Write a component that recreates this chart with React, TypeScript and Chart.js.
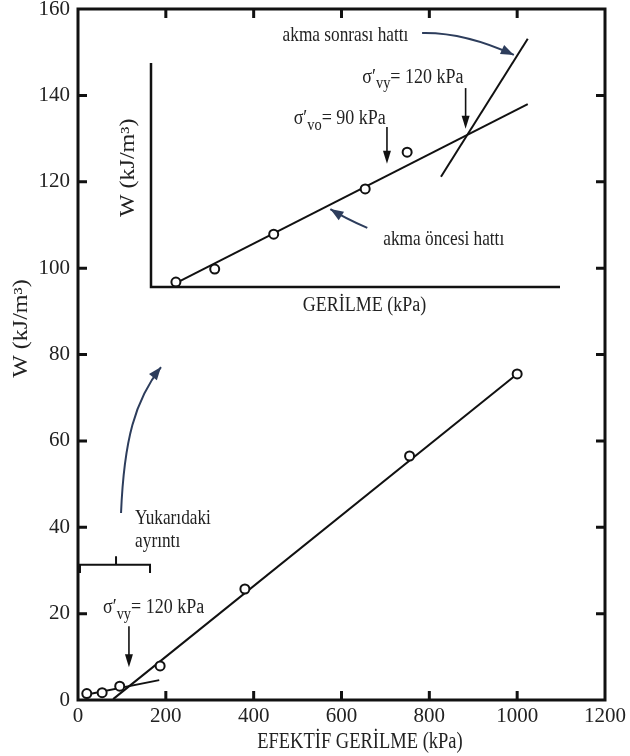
import React, { useEffect, useRef } from "react";
import { Chart, registerables } from "chart.js";

Chart.register(...registerables);

// ---------- Main chart data (EFEKTİF GERİLME kPa  vs  W kJ/m³) ----------
const stressKPa = [20, 55, 95, 187, 380, 755, 1000];
const energyW = [1.5, 1.7, 3.2, 7.9, 25.7, 56.5, 75.5];
const preYieldX = [15, 185];
const preYieldY = [1.15, 4.6];
const postYieldX = [80, 1000];
const postYieldY = [0.2, 75.5];
const xTickValues = [0, 200, 400, 600, 800, 1000, 1200];
const yTickValues = [0, 20, 40, 60, 80, 100, 120, 140, 160];

// ---------- Inset (detail) data: GERİLME kPa vs W ----------
const insetStress = [9.5, 24.3, 46.8, 81.7, 97.7];
const insetW = [0.11, 0.4, 1.18, 2.19, 3.01];
const insetPreX = [11, 143.7];
const insetPreY = [0.13, 4.08];
const insetPostX = [110.6, 143.7];
const insetPostY = [2.46, 5.54];
const sigmaVo = 90;
const sigmaVy = 120;

const FONT = '"Liberation Serif", "Times New Roman", serif';
const TEXT = "#222222";
const NAVY = "#2d3d5c";
const INK = "#111111";
const SY = 1.2;

const pts = (xs: number[], ys: number[]) => xs.map((x, i) => ({ x, y: ys[i] }));

function drawText(
  ctx: CanvasRenderingContext2D,
  s: string,
  x: number,
  y: number,
  size: number,
  align: CanvasTextAlign = "left",
  rot = 0,
  color = TEXT
) {
  ctx.save();
  ctx.translate(x, y);
  if (rot) {
    ctx.rotate(rot);
    ctx.scale(SY, 1);
  } else {
    ctx.scale(1, SY);
  }
  ctx.font = `${size}px ${FONT}`;
  ctx.textAlign = align;
  ctx.textBaseline = "middle";
  ctx.fillStyle = color;
  ctx.fillText(s, 0, 0);
  ctx.restore();
}

function drawSigma(ctx: CanvasRenderingContext2D, x: number, y: number, sub: string, rest: string, size: number) {
  ctx.save();
  ctx.translate(x, y);
  ctx.scale(1, SY);
  ctx.fillStyle = TEXT;
  ctx.textBaseline = "middle";
  ctx.textAlign = "left";
  ctx.font = `${size}px ${FONT}`;
  const a = "σ′";
  ctx.fillText(a, 0, 0);
  let cx = ctx.measureText(a).width;
  ctx.font = `${size * 0.8}px ${FONT}`;
  ctx.fillText(sub, cx, size * 0.32);
  cx += ctx.measureText(sub).width;
  ctx.font = `${size}px ${FONT}`;
  ctx.fillText(rest, cx, 0);
  ctx.restore();
}

function arrowHead(ctx: CanvasRenderingContext2D, x: number, y: number, ang: number, color: string, len = 12, w = 8) {
  ctx.save();
  ctx.translate(x, y);
  ctx.rotate(ang);
  ctx.beginPath();
  ctx.moveTo(0, 0);
  ctx.lineTo(-len, -w / 2);
  ctx.lineTo(-len, w / 2);
  ctx.closePath();
  ctx.fillStyle = color;
  ctx.fill();
  ctx.restore();
}

function downArrow(ctx: CanvasRenderingContext2D, x: number, y1: number, y2: number) {
  ctx.save();
  ctx.strokeStyle = INK;
  ctx.lineWidth = 1.6;
  ctx.beginPath();
  ctx.moveTo(x, y1);
  ctx.lineTo(x, y2 - 10);
  ctx.stroke();
  arrowHead(ctx, x, y2, Math.PI / 2, INK, 13, 8);
  ctx.restore();
}

function curveArrow(ctx: CanvasRenderingContext2D, p: number[][], color: string) {
  ctx.save();
  ctx.strokeStyle = color;
  ctx.lineWidth = 2;
  ctx.beginPath();
  ctx.moveTo(p[0][0], p[0][1]);
  if (p.length === 3) ctx.quadraticCurveTo(p[1][0], p[1][1], p[2][0], p[2][1]);
  else ctx.bezierCurveTo(p[1][0], p[1][1], p[2][0], p[2][1], p[3][0], p[3][1]);
  ctx.stroke();
  const e = p[p.length - 1];
  const c = p[p.length - 2];
  arrowHead(ctx, e[0], e[1], Math.atan2(e[1] - c[1], e[0] - c[0]), color, 13, 10);
  ctx.restore();
}

const mainDecor = {
  id: "mainDecor",
  afterDatasetsDraw(chart: any) {
    const ctx: CanvasRenderingContext2D = chart.ctx;
    const a = chart.chartArea;
    const xs = chart.scales.x;
    const ys = chart.scales.y;
    const X = (v: number) => xs.getPixelForValue(v);
    const Y = (v: number) => ys.getPixelForValue(v);
    ctx.save();
    // frame
    ctx.strokeStyle = INK;
    ctx.lineWidth = 3;
    ctx.strokeRect(a.left, a.top, a.right - a.left, a.bottom - a.top);
    // inward ticks on all four sides
    const tl = 9;
    ctx.beginPath();
    xTickValues.slice(1, -1).forEach((v) => {
      const px = X(v);
      ctx.moveTo(px, a.bottom);
      ctx.lineTo(px, a.bottom - tl);
      ctx.moveTo(px, a.top);
      ctx.lineTo(px, a.top + tl);
    });
    yTickValues.slice(1, -1).forEach((v) => {
      const py = Y(v);
      ctx.moveTo(a.left, py);
      ctx.lineTo(a.left + tl, py);
      ctx.moveTo(a.right, py);
      ctx.lineTo(a.right - tl, py);
    });
    ctx.stroke();

    // axis titles
    drawText(ctx, "EFEKTİF GERİLME (kPa)", X(642), Y(-9.7), 18.5, "center");
    drawText(ctx, "W (kJ/m³)", X(-129), Y(86), 20, "center", -Math.PI / 2);

    // "Yukarıdaki ayrıntı" note and bracket
    drawText(ctx, "Yukarıdaki", X(130), Y(42.1), 17.3);
    drawText(ctx, "ayrıntı", X(130), Y(36.6), 17.3);
    curveArrow(
      ctx,
      [
        [X(98), Y(43.3)],
        [X(104.8), Y(60.2)],
        [X(129.8), Y(69.5)],
        [X(189), Y(77.1)],
      ],
      NAVY
    );
    ctx.strokeStyle = INK;
    ctx.lineWidth = 2;
    ctx.beginPath();
    ctx.moveTo(X(4.5), Y(29.4));
    ctx.lineTo(X(4.5), Y(31.3));
    ctx.lineTo(X(164), Y(31.3));
    ctx.lineTo(X(164), Y(29.4));
    ctx.moveTo(X(86.6), Y(31.3));
    ctx.lineTo(X(86.6), Y(33.3));
    ctx.stroke();

    // σ'vy label on main chart
    drawSigma(ctx, X(57), Y(21.5), "vy", "= 120 kPa", 18);
    downArrow(ctx, X(116), Y(17.1), Y(7.6));
    ctx.restore();
  },
};

const insetDecor = {
  id: "insetDecor",
  afterDatasetsDraw(chart: any) {
    const ctx: CanvasRenderingContext2D = chart.ctx;
    const a = chart.chartArea;
    const xs = chart.scales.x;
    const ys = chart.scales.y;
    const X = (v: number) => xs.getPixelForValue(v);
    const Y = (v: number) => ys.getPixelForValue(v);
    ctx.save();
    ctx.strokeStyle = INK;
    ctx.lineWidth = 2.5;
    ctx.beginPath();
    ctx.moveTo(a.left, a.top);
    ctx.lineTo(a.left, a.bottom);
    ctx.lineTo(a.right, a.bottom);
    ctx.stroke();

    drawText(ctx, "GERİLME (kPa)", X(81.4), Y(-0.4), 18, "center");
    drawText(ctx, "W (kJ/m³)", X(-8.4), Y(2.66), 20, "center", -Math.PI / 2);

    drawText(ctx, "akma sonrası hattı", X(50.2), Y(5.62), 17.3);
    curveArrow(
      ctx,
      [
        [X(103.4), Y(5.67)],
        [X(119.4), Y(5.69)],
        [X(138.4), Y(5.18)],
      ],
      NAVY
    );

    drawSigma(ctx, X(80.6), Y(4.69), "vy", "= 120 kPa", 18);
    downArrow(ctx, X(sigmaVy), Y(4.44), Y(3.53));
    drawSigma(ctx, X(54.4), Y(3.77), "vo", "= 90 kPa", 18);
    downArrow(ctx, X(sigmaVo), Y(3.57), Y(2.75));

    drawText(ctx, "akma öncesi hattı", X(88.6), Y(1.05), 17.3);
    curveArrow(
      ctx,
      [
        [X(82.5), Y(1.32)],
        [X(73.6), Y(1.55)],
        [X(68.4), Y(1.74)],
      ],
      NAVY
    );
    ctx.restore();
  },
};

export default function App() {
  const mainRef = useRef<HTMLCanvasElement>(null);
  const insetRef = useRef<HTMLCanvasElement>(null);

  useEffect(() => {
    const tickFont = { family: FONT, size: 21 };
    const lineDs = (data: any) => ({
      type: "line" as const,
      data,
      borderColor: INK,
      borderWidth: 2,
      pointRadius: 0,
      fill: false,
      tension: 0,
      clip: false as any,
    });
    const pointDs = (data: any) => ({
      type: "scatter" as const,
      data,
      pointStyle: "circle",
      pointRadius: 4.5,
      pointBorderWidth: 2,
      borderColor: INK,
      pointBorderColor: INK,
      backgroundColor: "#ffffff",
      pointBackgroundColor: "#ffffff",
      clip: false as any,
    });

    const main = new Chart(mainRef.current!, {
      type: "scatter",
      data: {
        datasets: [
          pointDs(pts(stressKPa, energyW)),
          lineDs(pts(preYieldX, preYieldY)),
          lineDs(pts(postYieldX, postYieldY)),
        ] as any,
      },
      options: {
        responsive: false,
        animation: false,
        events: [],
        layout: { padding: { left: 0, right: 25, top: 9, bottom: 0 } },
        plugins: { legend: { display: false }, tooltip: { enabled: false } },
        scales: {
          x: {
            type: "linear",
            min: 0,
            max: 1200,
            afterBuildTicks: (s: any) => {
              s.ticks = xTickValues.map((v) => ({ value: v }));
            },
            ticks: {
              font: tickFont,
              color: TEXT,
              padding: 4,
              maxRotation: 0,
              callback: (v: any) => String(v),
            },
            grid: { display: false, drawTicks: false },
            border: { display: false },
            afterFit: (s: any) => {
              s.height = 56;
              s.paddingLeft = 0;
              s.paddingRight = 0;
            },
          },
          y: {
            type: "linear",
            min: 0,
            max: 160,
            afterBuildTicks: (s: any) => {
              s.ticks = yTickValues.map((v) => ({ value: v }));
            },
            ticks: { font: tickFont, color: TEXT, padding: 8, callback: (v: any) => String(v) },
            grid: { display: false, drawTicks: false },
            border: { display: false },
            afterFit: (s: any) => {
              s.width = 78;
              s.paddingTop = 0;
              s.paddingBottom = 0;
            },
          },
        },
      } as any,
      plugins: [mainDecor],
    });

    const inset = new Chart(insetRef.current!, {
      type: "scatter",
      data: {
        datasets: [
          pointDs(pts(insetStress, insetW)),
          lineDs(pts(insetPreX, insetPreY)),
          lineDs(pts(insetPostX, insetPostY)),
        ] as any,
      },
      options: {
        responsive: false,
        animation: false,
        events: [],
        layout: { padding: { left: 151, right: 70, top: 63, bottom: 469 } },
        plugins: { legend: { display: false }, tooltip: { enabled: false } },
        scales: {
          x: { type: "linear", display: false, min: 0, max: 156 },
          y: { type: "linear", display: false, min: 0, max: 5 },
        },
      } as any,
      plugins: [insetDecor],
    });

    return () => {
      main.destroy();
      inset.destroy();
    };
  }, []);

  const cs: React.CSSProperties = { position: "absolute", left: 0, top: 0, width: 630, height: 756 };
  return (
    <div style={{ position: "absolute", left: 0, top: 0, width: 630, height: 756, background: "#ffffff" }}>
      <canvas ref={mainRef} width={630} height={756} style={cs} />
      <canvas ref={insetRef} width={630} height={756} style={{ ...cs, pointerEvents: "none" }} />
    </div>
  );
}
